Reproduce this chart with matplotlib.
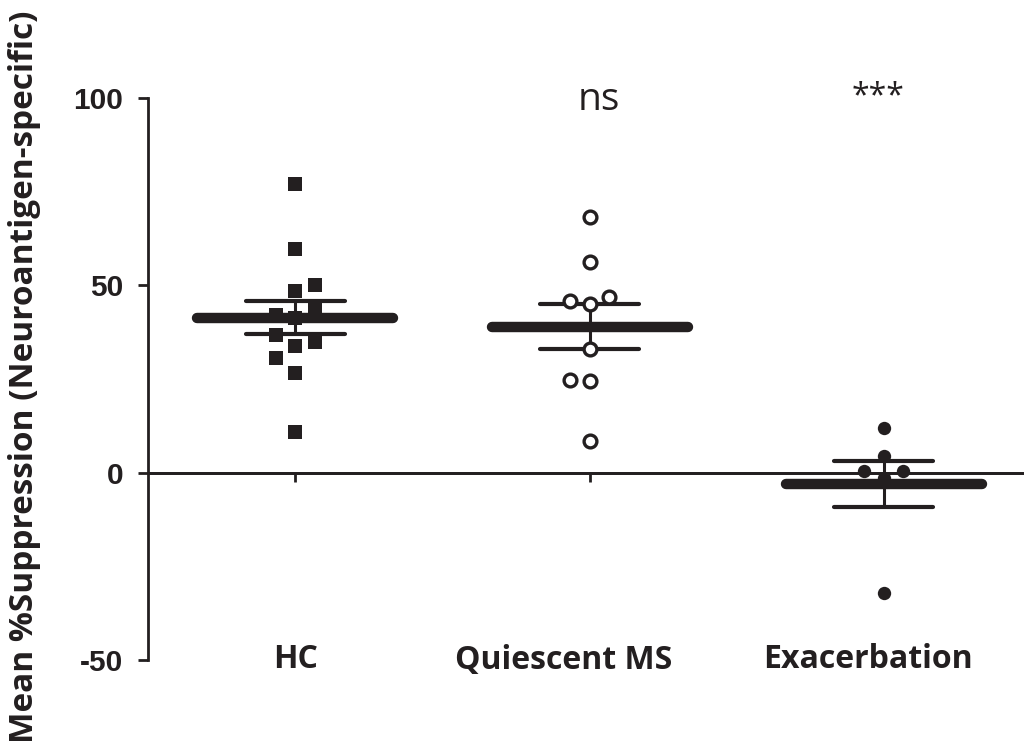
import matplotlib
matplotlib.use("Agg")
import matplotlib.pyplot as plt
import numpy as np

# group names and significance marks
groups = ["HC", "Quiescent MS", "Exacerbation"]
signif = ["", "ns", "***"]

# individual values (% suppression)
hc_vals = [77.0, 59.7, 50.1, 48.6, 43.7, 42.2, 41.3, 36.8, 34.8, 33.7, 30.6, 26.6, 10.8]
hc_cols = [0, 0, 1, 0, 1, -1, 0, -1, 1, 0, -1, 0, 0]
qms_vals = [68.2, 56.2, 46.8, 45.7, 44.9, 33.0, 24.6, 24.4, 8.4]
qms_cols = [0, 0, 1, -1, 0, 0, -1, 0, 0]
exa_vals = [11.9, 4.4, 0.4, 0.5, -1.3, -32.2]
exa_cols = [0, 0, -1, 1, 0, 0]

# mean and SEM of each group
means = [41.3, 39.0, -3.0]
sems = [4.4, 6.0, 6.2]

ink = "#231f20"

fig = plt.figure(figsize=(10.24, 7.53), dpi=100)
ax = fig.add_axes([148 / 1024, 93 / 753, 876 / 1024, 562 / 753])

ax.set_xlim(-0.5, 2.476)
ax.set_ylim(-50, 100)

# error bars (SEM) under the points
for i, (m, s) in enumerate(zip(means, sems)):
    ax.plot([i, i], [m - s, m + s], color=ink, lw=2.2, zorder=2, solid_capstyle="butt")
    for y in (m - s, m + s):
        ax.plot([i - 0.168, i + 0.168], [y, y], color=ink, lw=3.0,
                solid_capstyle="round", zorder=2)

dx = 0.066
ax.plot(np.array(hc_cols) * dx + 0, hc_vals, "s", color=ink, ms=9.4, mew=0, zorder=3)
ax.plot(np.array(qms_cols) * dx + 1, qms_vals, "o", mfc="white", mec=ink,
        ms=9.2, mew=2.4, zorder=3)
ax.plot(np.array(exa_cols) * dx + 2, exa_vals, "o", color=ink, ms=9.6, mew=0, zorder=3)

# mean bars on top
for i, m in enumerate(means):
    ax.plot([i - 0.333, i + 0.333], [m, m], color=ink, lw=7.5,
            solid_capstyle="round", zorder=4)

# zero line and axes
ax.axhline(0, color=ink, lw=2.0, zorder=1, clip_on=False, xmin=0, xmax=1)
for side in ["top", "right"]:
    ax.spines[side].set_visible(False)
ax.spines["bottom"].set_position(("data", 0))
ax.spines["bottom"].set_color(ink)
ax.spines["bottom"].set_linewidth(2.0)
ax.spines["left"].set_color(ink)
ax.spines["left"].set_linewidth(2.0)

ax.set_yticks([-50, 0, 50, 100])
ax.set_yticklabels(["-50", "0", "50", "100"])
ax.tick_params(axis="y", direction="out", length=7, width=2.0, color=ink, pad=11,
               labelsize=21.5, labelcolor=ink)
for lab in ax.get_yticklabels():
    lab.set_fontfamily("Liberation Sans")
    lab.set_fontweight("bold")

ax.set_xticks([0, 1, 2])
ax.set_xticklabels([])
ax.tick_params(axis="x", direction="out", length=6.5, width=2.0, color=ink)

# category labels sit a little left of their ticks in the original
label_shift = [0.0, -0.088, -0.054]
for i, g in enumerate(groups):
    ax.text(i + label_shift[i], -50, g, ha="center", va="center", fontsize=23,
            fontweight="bold", family="Open Sans", color=ink)

ax.text(1.03, 96.7, signif[1], ha="center", va="baseline", fontsize=28,
        family="Open Sans", color=ink)
ax.text(1.98, 100.3, signif[2], ha="center", va="center", fontsize=23,
        family="Open Sans", color=ink)

fig.text(25 / 1024, 0.5, "Mean %Suppression (Neuroantigen-specific)", rotation=90,
         ha="center", va="center", fontsize=24, fontweight="bold",
         family="Open Sans", color=ink)

fig.savefig("out.png", dpi=100)
